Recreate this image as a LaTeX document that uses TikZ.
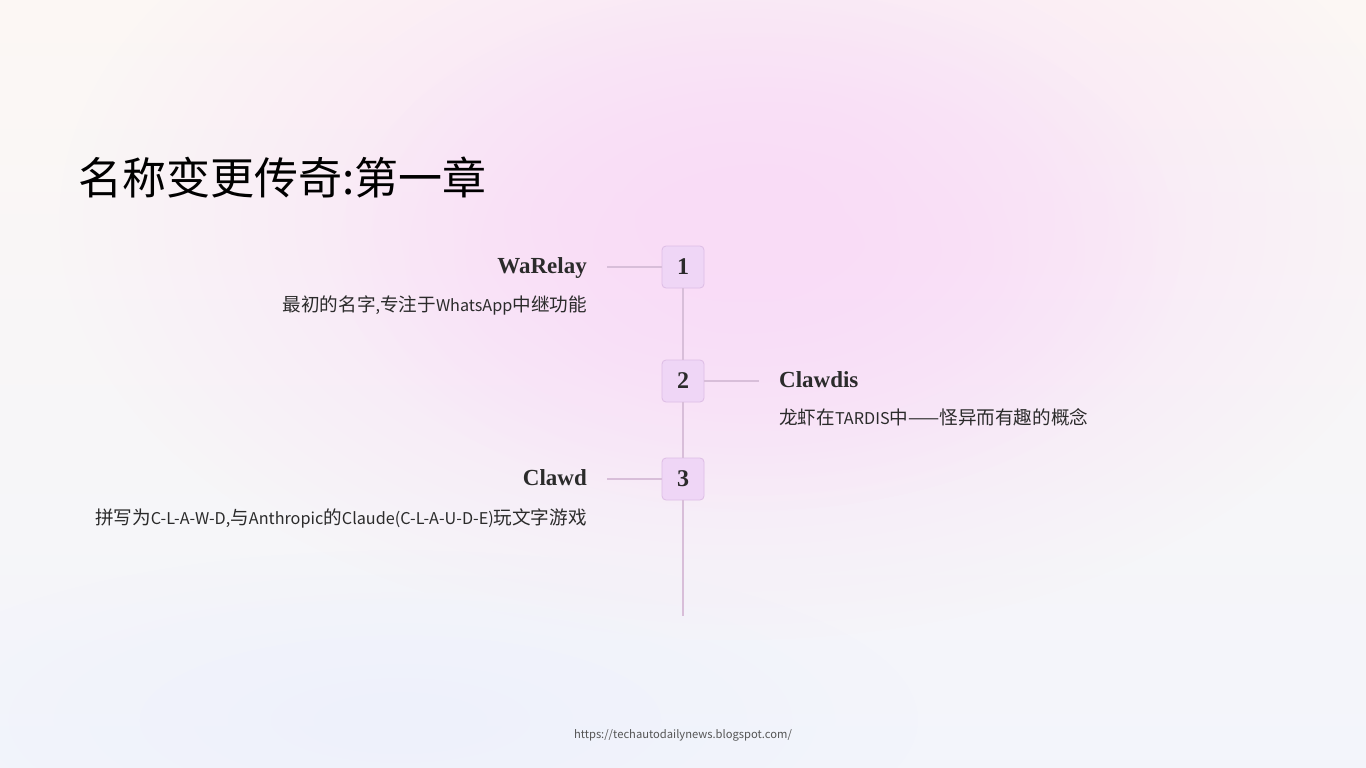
\documentclass[tikz,border=0pt]{standalone}
\usepackage{fontspec}
\setmainfont{Liberation Serif}
\newfontfamily\cjk{Noto Sans CJK SC}
\newfontfamily\serifb{Liberation Serif}
\usetikzlibrary{fadings}
\tikzfading[name=blobfade, inner color=transparent!0, outer color=transparent!100]
\definecolor{bgtop}{HTML}{FCF7F4}
\definecolor{bgbot}{HTML}{F3F5FB}
\definecolor{blobpink}{HTML}{F9DCF7}
\definecolor{blobblue}{HTML}{EEF1FC}
\definecolor{boxfill}{HTML}{EFD6F6}
\definecolor{boxline}{HTML}{DDBDE5}
\definecolor{linec}{HTML}{D8BED9}
\definecolor{txt}{HTML}{2B2B2B}
\definecolor{foot}{HTML}{555555}
\newcommand{\lt}[1]{{\fontsize{16.2}{16.2}\selectfont #1}}
\tikzset{
  numbox/.style={draw=boxline, line width=0.8pt, fill=boxfill, rounded corners=4pt,
    minimum width=42pt, minimum height=42pt, inner sep=0pt,
    font=\serifb\bfseries\fontsize{24}{24}\selectfont, text=txt},
  heading/.style={inner sep=0pt, font=\serifb\bfseries\fontsize{23}{23}\selectfont, text=txt},
  desc/.style={inner sep=0pt, font=\cjk\fontsize{18.6}{18.6}\selectfont, text=txt},
  conn/.style={draw=linec, line width=2pt},
}
\begin{document}
\begin{tikzpicture}[x=1pt,y=-1pt]
\useasboundingbox (0,0) rectangle (1366,768);
% background
\shade[top color=bgtop, bottom color=bgbot] (0,0) rectangle (1366,768);
\fill[blobpink, path fading=blobfade] (740,220) ellipse (680 and 420);
\fill[blobpink, path fading=blobfade] (760,250) ellipse (420 and 260);
\fill[blobblue, path fading=blobfade] (400,720) ellipse (520 and 170);
% title
\node[anchor=base west, inner sep=0pt, font=\cjk\fontsize{44}{44}\selectfont, text=black] (title) at (78,194) {名称变更传奇:第一章};
% boxes
\node[numbox] (b1) at (683,267) {1};
\node[numbox] (b2) at (683,381) {2};
\node[numbox] (b3) at (683,479) {3};
\coordinate (vend) at (683,616);
\coordinate (h1) at (607,267);
\coordinate (h2) at (759,381);
\coordinate (h3) at (607,479);
\draw[conn] (b1.south) -- (b2.north);
\draw[conn] (b2.south) -- (b3.north);
\draw[conn] (b3.south) -- (vend);
\draw[conn] (h1) -- (b1.west);
\draw[conn] (b2.east) -- (h2);
\draw[conn] (h3) -- (b3.west);
% labels
\node[heading, anchor=base east] (t1) at (587,273) {WaRelay};
\node[desc, anchor=base east] (d1) at (587,311) {最初的名字\lt{,}专注于\lt{WhatsApp}中继功能};
\node[heading, anchor=base west] (t2) at (779,387) {Clawdis};
\node[desc, anchor=base west] (d2) at (779,424) {龙虾在\lt{TARDIS}中——怪异而有趣的概念};
\node[heading, anchor=base east] (t3) at (587,485) {Clawd};
\node[desc, anchor=base east] (d3) at (587,524) {拼写为\lt{C-L-A-W-D,}与\lt{Anthropic}的\lt{Claude(C-L-A-U-D-E)}玩文字游戏};
% footer
\node[anchor=base, inner sep=0pt, font=\cjk\fontsize{11.2}{11.2}\selectfont, text=foot] (url) at (683,738) {https://techautodailynews.blogspot.com/};
\end{tikzpicture}
\end{document}
